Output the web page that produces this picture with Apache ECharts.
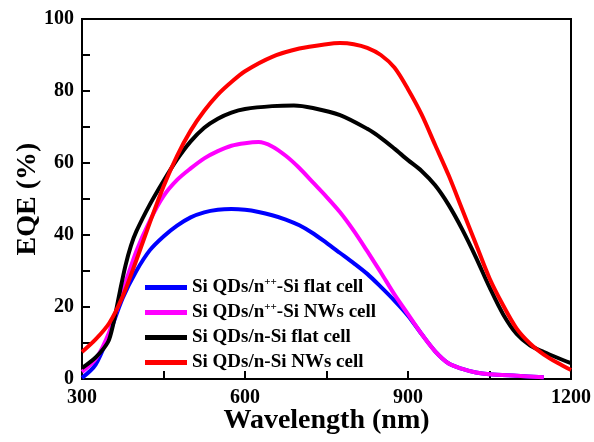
<!DOCTYPE html>
<html>
<head>
<meta charset="utf-8">
<title>EQE</title>
<script src="https://cdn.jsdelivr.net/npm/echarts@6/dist/echarts.min.js"></script>
<style>
  html, body { margin: 0; padding: 0; background: #fff; }
  #main { width: 594px; height: 442px; }
</style>
</head>
<body>
<div id="main"></div>
<script>
// series names (legend order)
var names = [
  'Si QDs/n{sup|++}-Si flat cell',
  'Si QDs/n{sup|++}-Si NWs cell',
  'Si QDs/n-Si flat cell',
  'Si QDs/n-Si NWs cell'
];
var colors = ['#0000ff', '#ff00ff', '#000000', '#ff0000'];

// wavelength (nm) / EQE (%)
var blueX = [300, 325, 350, 375, 400, 425, 450, 475, 500, 525, 550, 575, 600, 625, 650, 675, 700, 725, 750, 775, 800, 825, 850, 875, 900, 925, 950, 975, 1000, 1025, 1050, 1100, 1150];
var blueY = [0.3, 4, 12.5, 22.5, 30, 35.8, 39.6, 42.6, 44.9, 46.3, 47, 47.2, 47, 46.4, 45.5, 44.3, 42.7, 40.5, 37.8, 35, 32.2, 29.2, 25.6, 21.8, 17.6, 12.5, 7.7, 4.3, 2.8, 1.8, 1.3, 0.9, 0.5];

var magX = [300, 325, 350, 375, 400, 425, 450, 475, 500, 525, 550, 575, 600, 625, 650, 675, 700, 725, 750, 775, 800, 825, 850, 875, 900, 925, 950, 975, 1000, 1025, 1050, 1100, 1150];
var magY = [2, 5.5, 13, 24.5, 35.5, 44, 50.8, 55.3, 58.5, 61.3, 63.3, 64.8, 65.5, 65.8, 64.6, 62, 58.6, 54.6, 50.6, 46.3, 41.2, 35.5, 29.6, 23.5, 18, 12.5, 7.7, 4.3, 2.8, 1.8, 1.3, 0.9, 0.5];

var blackX = [300, 325, 340, 350, 360, 370, 380, 390, 400, 425, 450, 475, 500, 525, 550, 575, 600, 650, 690, 725, 775, 825, 850, 875, 900, 925, 950, 975, 1000, 1025, 1050, 1075, 1100, 1125, 1150, 1175, 1200];
var blackY = [3, 6, 8.5, 11, 17, 24.5, 31.5, 37, 41, 48.5, 55, 61, 66, 69.8, 72.3, 74, 75, 75.8, 76, 75.3, 73.3, 69.5, 67, 64, 60.8, 57.8, 53.8, 48.3, 41.5, 33.8, 25.5, 18, 12.5, 9.3, 7.5, 5.9, 4.4];

var redX = [300, 325, 350, 375, 400, 425, 450, 475, 500, 525, 550, 575, 600, 650, 700, 750, 775, 800, 825, 850, 875, 900, 925, 950, 975, 1000, 1025, 1050, 1075, 1100, 1125, 1150, 1175, 1200];
var redY = [7.5, 11, 15.5, 23, 33, 43.5, 53.5, 62, 69, 74.5, 79, 82.5, 85.5, 89.5, 91.8, 93, 93.3, 93, 92, 90, 86.5, 80.5, 73.5, 65, 56.5, 47, 37.5, 28, 20.5, 14, 9.8, 6.8, 4.5, 2.5];

var xTickLabels = [300, 600, 900, 1200];
var yTickLabels = [0, 20, 40, 60, 80, 100];

function pairs(xs, ys) {
  return xs.map(function (x, i) { return [x, ys[i]]; });
}
var allX = [blueX, magX, blackX, redX];
var allY = [blueY, magY, blackY, redY];

var font = 'Liberation Serif';
var chart = echarts.init(document.getElementById('main'));

chart.setOption({
  animation: false,
  grid: {
    left: 82, right: 23, top: 19, bottom: 63,
    outerBoundsMode: 'none',
    show: true, borderColor: '#000', borderWidth: 2
  },
  legend: {
    orient: 'vertical',
    left: 140,
    top: 272,
    itemWidth: 42,
    itemHeight: 5,
    itemGap: 4,
    icon: 'rect',
    data: names,
    textStyle: {
      fontFamily: font,
      fontWeight: 'bold',
      fontSize: 19,
      color: '#000',
      lineHeight: 21,
      rich: {
        sup: {
          fontFamily: font,
          fontWeight: 'bold',
          fontSize: 11,
          lineHeight: 21,
          verticalAlign: 'top',
          color: '#000'
        }
      }
    }
  },
  xAxis: {
    type: 'value',
    min: 300,
    max: 1200,
    interval: 150,
    name: 'Wavelength (nm)',
    nameLocation: 'middle',
    nameGap: 28,
    nameMoveOverlap: false,
    nameTextStyle: { fontFamily: font, fontWeight: 'bold', fontSize: 28, color: '#000' },
    axisLine: { lineStyle: { color: '#000', width: 2 } },
    axisTick: { inside: true, length: 8, lineStyle: { color: '#000', width: 2 } },
    axisLabel: {
      fontFamily: font, fontWeight: 'bold', fontSize: 20, color: '#000', margin: 9,
      formatter: function (v) { return xTickLabels.indexOf(v) >= 0 ? String(v) : ''; }
    },
    splitLine: { show: false }
  },
  yAxis: {
    type: 'value',
    min: 0,
    max: 100,
    interval: 10,
    name: 'EQE (%)',
    nameLocation: 'middle',
    nameGap: 40,
    nameMoveOverlap: false,
    nameTextStyle: { fontFamily: font, fontWeight: 'bold', fontSize: 28, color: '#000' },
    axisLine: { lineStyle: { color: '#000', width: 2 } },
    axisTick: { inside: true, length: 8, lineStyle: { color: '#000', width: 2 } },
    axisLabel: {
      fontFamily: font, fontWeight: 'bold', fontSize: 20, color: '#000', margin: 8,
      formatter: function (v) { return yTickLabels.indexOf(v) >= 0 ? String(v) : ''; }
    },
    splitLine: { show: false }
  },
  series: names.map(function (n, i) {
    return {
      name: n,
      type: 'line',
      smooth: 0.3,
      showSymbol: false,
      color: colors[i],
      lineStyle: { width: 4, color: colors[i] },
      data: pairs(allX[i], allY[i])
    };
  })
});
</script>
</body>
</html>
